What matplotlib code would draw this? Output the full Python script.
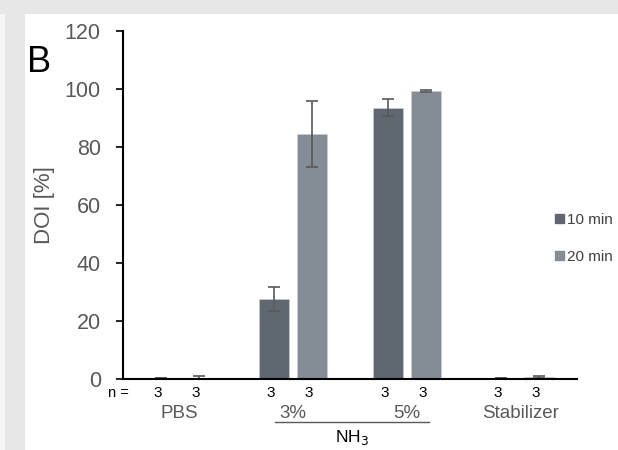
import matplotlib.pyplot as plt
import matplotlib.patches as mpatches
import numpy as np

# data
groups = ["PBS", "3%", "5%", "Stabilizer"]
doi_10min = [0.3, 27.5, 93.6, 0.3]
err_10min = [0.0, 4.2, 2.9, 0.0]
doi_20min = [0.5, 84.5, 99.3, 0.6]
err_20min = [0.5, 11.4, 0.3, 0.3]
n_10min = [3, 3, 3, 3]
n_20min = [3, 3, 3, 3]
yticks = [0, 20, 40, 60, 80, 100, 120]

plt.rcParams['font.family'] = ['Liberation Sans', 'DejaVu Sans']

dark = "#5f6770"
light = "#848c95"
grey_txt = "#595959"

fig = plt.figure(figsize=(6.18, 4.5), dpi=100)
fig.patch.set_facecolor("white")

# grey page strips around the panel
fig.add_artist(mpatches.Rectangle((0, 1 - 14 / 450), 1, 14 / 450, transform=fig.transFigure,
                                  facecolor="#e6e7e6", edgecolor="none"))
fig.add_artist(mpatches.Rectangle((0, 0), 25 / 618, 1, transform=fig.transFigure,
                                  facecolor="#e6e7e6", edgecolor="none"))
fig.add_artist(mpatches.Rectangle((0, 0), 5 / 618, 1 - 14 / 450, transform=fig.transFigure,
                                  facecolor="#f6f6f6", edgecolor="none"))
# cut-off letter from the heading above
fig.text(542 / 618, 1.0 + 0.018, "y", fontsize=20, fontweight="bold", color="black",
         ha="center", va="baseline")

ax = fig.add_axes([123 / 618, 1 - 379 / 450, (577 - 123) / 618, (379 - 31) / 450])

x = np.arange(len(groups))
w = 0.265
off = 0.167
ekw = dict(ecolor="#595959", elinewidth=1.2, capsize=4.5, capthick=1.2)
ax.bar(x - off, doi_10min, w, color=dark, edgecolor="#c9cdd1", linewidth=0.5,
       yerr=err_10min, error_kw=ekw, label="10 min", zorder=2)
ax.bar(x + off, doi_20min, w, color=light, edgecolor="#c9cdd1", linewidth=0.5,
       yerr=err_20min, error_kw=ekw, label="20 min", zorder=2)

ax.set_xlim(-0.5, 3.5)
ax.set_ylim(0, 120)
ax.set_yticks(yticks)
ax.set_xticks([])
ax.tick_params(axis="y", direction="out", length=5, width=1.2, labelsize=15.5,
               labelcolor=grey_txt, pad=11)
for s in ["top", "right"]:
    ax.spines[s].set_visible(False)
ax.spines["left"].set_linewidth(1.5)
ax.spines["bottom"].set_linewidth(1.5)
ax.set_ylabel("DOI [%]", fontsize=16, color=grey_txt, labelpad=7)

tr = ax.get_xaxis_transform()
ax.text(-0.45, -0.040, "n =", transform=tr, ha="right", va="center", fontsize=10.5, color="black")
for i in range(len(groups)):
    ax.text(x[i] - off - 0.03, -0.040, str(n_10min[i]), transform=tr, ha="center", va="center",
            fontsize=11, color="black")
    ax.text(x[i] + off - 0.03, -0.040, str(n_20min[i]), transform=tr, ha="center", va="center",
            fontsize=11, color="black")
    ax.text(x[i], -0.098, groups[i], transform=tr, ha="center", va="center",
            fontsize=13.5, color=grey_txt)

ax.plot([0.84, 2.2], [-0.123, -0.123], transform=tr, color=grey_txt, lw=1, clip_on=False)
ax.text(1.52, -0.167, "NH$_3$", transform=tr, ha="center", va="center", fontsize=12.5, color="black")

fig.text(27 / 618, 1 - 62 / 450, "B", fontsize=26, color="black", ha="left", va="center")

handles = [mpatches.Patch(color=dark), mpatches.Patch(color=light)]
fig.legend(handles, ["10 min", "20 min"], loc="upper left",
           bbox_to_anchor=(555 / 618, 1 - 213 / 450), frameon=False, fontsize=11,
           handlelength=0.6, handleheight=0.6, handletextpad=0.2, labelspacing=1.5,
           labelcolor="#404040", borderaxespad=0, borderpad=0)

fig.savefig("out.png", dpi=100)
